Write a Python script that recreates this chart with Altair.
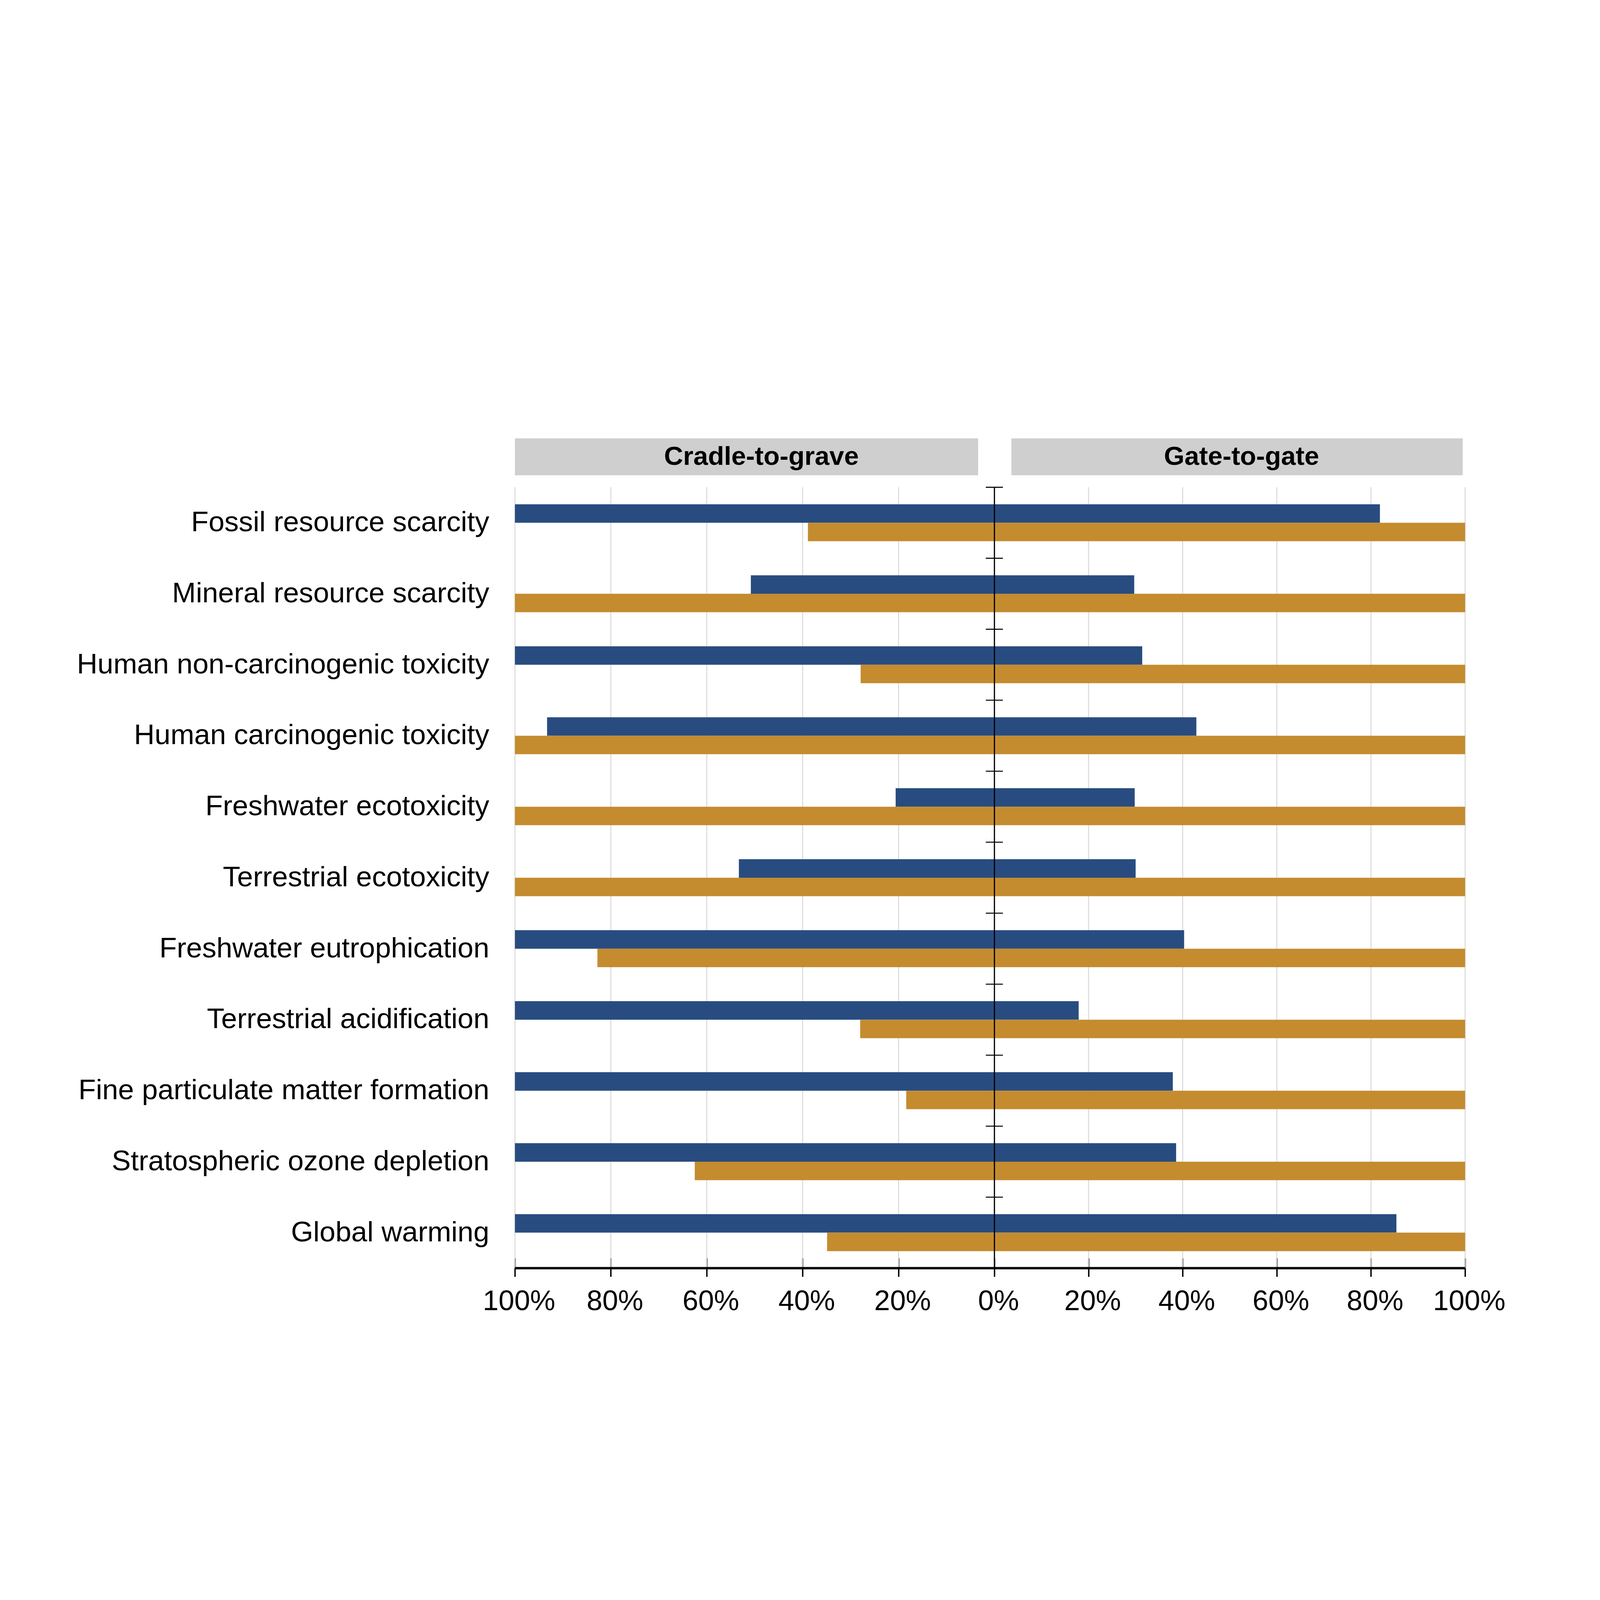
import altair as alt
import pandas as pd

# ---------------- data ----------------
CATS = [
    "Fossil resource scarcity",
    "Mineral resource scarcity",
    "Human non-carcinogenic toxicity",
    "Human carcinogenic toxicity",
    "Freshwater ecotoxicity",
    "Terrestrial ecotoxicity",
    "Freshwater eutrophication",
    "Terrestrial acidification",
    "Fine particulate matter formation",
    "Stratospheric ozone depletion",
    "Global warming",
]
SERIES = ["Series 1", "Series 2"]
SCOPES = ["Cradle-to-grave", "Gate-to-gate"]

# relative contribution (%)
C2G_S1 = [100, 50.8, 100, 93.3, 20.6, 53.3, 100, 100, 100, 100, 100]
C2G_S2 = [38.9, 100, 27.9, 100, 100, 100, 82.8, 28.0, 18.4, 62.5, 34.9]
G2G_S1 = [81.9, 29.7, 31.4, 42.9, 29.8, 30.0, 40.3, 17.9, 37.9, 38.6, 85.4]
G2G_S2 = [100, 100, 100, 100, 100, 100, 100, 100, 100, 100, 100]

TICKS = [-100, -80, -60, -40, -20, 0, 20, 40, 60, 80, 100]

# ---------------- layout / style ----------------
FONT = "Liberation Sans"
BLUE = "#284C80"
ORANGE = "#C48C2F"
HEAD_FILL = "#D0CFCF"
GRID = "#D9D9D9"
W = 4760
H = 3912
PAD_L, PAD_T = 2564, 280
PAD_R = 8000 - 16 - PAD_L - W
PAD_B = 4500 - 16 - PAD_T - H

rows = []
for scope, sign, s1, s2 in [(SCOPES[0], -1, C2G_S1, C2G_S2), (SCOPES[1], 1, G2G_S1, G2G_S2)]:
    for cat, a, b in zip(CATS, s1, s2):
        rows.append({"category": cat, "series": SERIES[0], "scope": scope, "value": a, "signed": sign * a})
        rows.append({"category": cat, "series": SERIES[1], "scope": scope, "value": b, "signed": sign * b})
bars_df = pd.DataFrame(rows)

xs = alt.Scale(domain=[-100, 0, 100], range=[0, 2402, W], nice=False, zero=False)
ys = alt.Scale(domain=CATS, paddingInner=0, paddingOuter=0)
hys = alt.Scale(domain=[0, 1], range=[-245, -60], nice=False, zero=False)

XAX = alt.Axis(
    values=TICKS,
    labelExpr="abs(datum.value) + '%'",
    grid=False,
    domain=False,
    ticks=True,
    tickSize=93,
    tickWidth=7,
    tickColor="black",
    offset=-50,
    labelPadding=54,
    labelFontSize=142,
    labelFont=FONT,
    labelColor="black",
    labelFlush=False,
    labelOverlap=False,
    labelLimit=2000,
    labelOffset=20,
    title=None,
)
YAX = alt.Axis(
    title=None,
    domain=False,
    ticks=False,
    labelPadding=129,
    labelFontSize=143,
    labelFont=FONT,
    labelColor="black",
    labelLimit=5000,
)

grid = alt.Chart(pd.DataFrame({"t": TICKS})).mark_rule(color=GRID, strokeWidth=5).encode(
    x=alt.X("t:Q", scale=xs, axis=XAX)
)

bars = alt.Chart(bars_df).mark_bar().encode(
    x=alt.X("signed:Q", scale=xs, axis=XAX),
    x2=alt.datum(0),
    y=alt.Y("category:N", sort=CATS, scale=ys, axis=YAX),
    yOffset=alt.YOffset("series:N", sort=SERIES, scale=alt.Scale(paddingInner=0, paddingOuter=0.92)),
    color=alt.Color("series:N", scale=alt.Scale(domain=SERIES, range=[BLUE, ORANGE]), legend=None),
)

center = alt.Chart(pd.DataFrame({"z": [0]})).mark_rule(color="black", strokeWidth=6).encode(
    x=alt.X("z:Q", scale=xs, axis=XAX)
)

ctick = alt.Chart(pd.DataFrame({"category": CATS, "lo": [-1.8] * len(CATS), "hi": [1.8] * len(CATS)})).mark_rule(
    color="black", strokeWidth=5
).encode(
    x=alt.X("lo:Q", scale=xs, axis=XAX),
    x2="hi:Q",
    y=alt.Y("category:N", sort=CATS, scale=ys, axis=YAX, bandPosition=0),
)

baseline = alt.Chart(pd.DataFrame({"category": [CATS[-1]], "lo": [-100], "hi": [100]})).mark_rule(
    color="black", strokeWidth=12
).encode(
    x=alt.X("lo:Q", scale=xs, axis=XAX),
    x2="hi:Q",
    y=alt.Y("category:N", sort=CATS, scale=ys, axis=YAX, bandPosition=1),
)

main = alt.layer(grid, bars, center, ctick, baseline)

head_df = pd.DataFrame({
    "label": SCOPES,
    "hs": [-100, 3.6],
    "he": [-3.4, 99.5],
    "tx": [-48.6, 52.5],
})

head_rect = alt.Chart(head_df).mark_rect(color=HEAD_FILL).encode(
    x=alt.X("hs:Q", scale=xs, axis=XAX),
    x2="he:Q",
    y=alt.YDatum(0, type="quantitative", scale=hys, axis=None),
    y2=alt.datum(1),
)
head_text = alt.Chart(head_df).mark_text(
    font=FONT, fontSize=132, fontWeight="bold", color="black", align="center", baseline="middle"
).encode(
    x=alt.X("tx:Q", scale=xs, axis=XAX),
    y=alt.YDatum(0.5, type="quantitative", scale=hys, axis=None),
    text="label:N",
)
header = alt.layer(head_rect, head_text)

chart = (
    alt.layer(main, header)
    .resolve_scale(y="independent")
    .properties(
        width=W,
        height=H,
        autosize=alt.AutoSizeParams(type="none"),
        padding={"left": PAD_L, "top": PAD_T, "right": PAD_R, "bottom": PAD_B},
        background="white",
    )
    .configure_view(stroke=None)
)

chart.save("out.html", embed_options={"renderer": "svg", "actions": False})
